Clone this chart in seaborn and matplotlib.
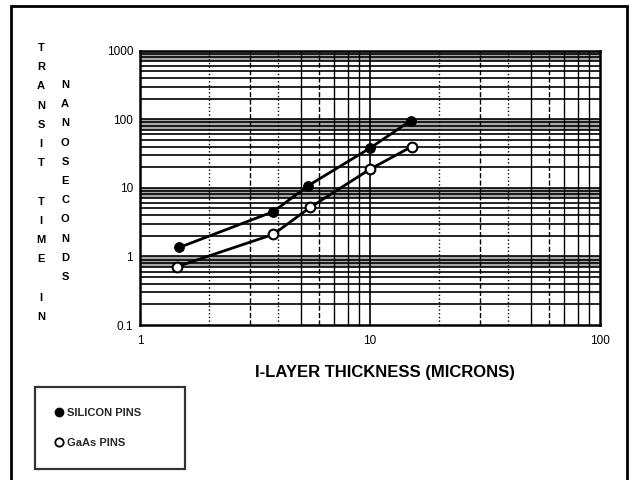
import numpy as np
import pandas as pd
import matplotlib
matplotlib.use("Agg")
import matplotlib.pyplot as plt
from matplotlib.lines import Line2D
from matplotlib.patches import Rectangle
import seaborn as sns

# ---- data ----
si_thickness = [1.48, 3.8, 5.4, 10.0, 15.0]
si_transit = [1.35, 4.5, 10.8, 38.0, 95.0]
gaas_thickness = [1.45, 3.8, 5.5, 10.0, 15.2]
gaas_transit = [0.71, 2.1, 5.2, 18.7, 40.0]

y_ticks = [0.1, 1, 10, 100, 1000]
y_tick_labels = ["0.1", "1", "10", "100", "1000"]
x_ticks = [1, 10, 100]
x_tick_labels = ["1", "10", "100"]

series_names = ["SILICON PINS", "GaAs PINS"]
x_label = "I-LAYER THICKNESS (MICRONS)"
ylabel_col1 = "TRANSIT TIME IN"
ylabel_col2 = "NANOSECONDS"

df = pd.DataFrame({
    "thickness": si_thickness + gaas_thickness,
    "transit": si_transit + gaas_transit,
    "series": [series_names[0]] * len(si_thickness) + [series_names[1]] * len(gaas_thickness),
})

sns.set_theme(style="white")
plt.rcParams["font.family"] = ["Liberation Sans", "DejaVu Sans"]

W, H = 634, 480
fig = plt.figure(figsize=(W / 100, H / 100), dpi=100)
fig.patch.set_facecolor("white")

def fx(px):
    return px / W

def fy(py):
    return 1 - py / H

ax = fig.add_axes([fx(140), fy(325), fx(600) - fx(140), fy(50.7) - fy(325)])
ax.set_xscale("log")
ax.set_yscale("log")
ax.set_xlim(1, 100)
ax.set_ylim(0.1, 1000)

# gray bands near each decade line
for d in [0.1, 1, 10, 100]:
    ax.axhspan(d * 7, d * 10, color="#a8a8a8", lw=0, zorder=0.5)

# grid lines
for d in [0.1, 1, 10, 100]:
    for m in range(1, 10):
        v = d * m
        if 0.1 < v < 1000:
            ax.axhline(v, color="black", lw=1.2, zorder=1)
vstyles = {2: ":", 3: "--", 4: ":", 6: "--"}
for d in [1, 10]:
    for m in range(2, 10):
        ax.axvline(d * m, color="black", lw=1.0, ls=vstyles.get(m, "-"), zorder=1)
ax.axvline(10, color="black", lw=1.2, zorder=1)

sub_si = df[df.series == series_names[0]]
sub_ga = df[df.series == series_names[1]]
sns.lineplot(data=sub_si, x="thickness", y="transit", ax=ax, color="black", lw=2,
             marker="o", markersize=7, markerfacecolor="black", markeredgecolor="black",
             legend=False, zorder=5)
sns.lineplot(data=sub_ga, x="thickness", y="transit", ax=ax, color="black", lw=2,
             marker="o", markersize=7, markerfacecolor="white", markeredgecolor="black",
             markeredgewidth=1.5, legend=False, zorder=5)

ax.set_xlabel("")
ax.set_ylabel("")
ax.set_yticks(y_ticks)
ax.set_yticklabels(y_tick_labels)
ax.set_xticks(x_ticks)
ax.set_xticklabels(x_tick_labels)
ax.minorticks_off()
ax.tick_params(axis="both", length=0, labelsize=8.5, colors="black")
ax.tick_params(axis="y", pad=5)
ax.tick_params(axis="x", pad=7)
for s in ax.spines.values():
    s.set_color("black")
    s.set_linewidth(1.8)
    s.set_visible(True)

# x label
fig.text(fx(385), fy(372), x_label, ha="center", va="center",
         fontsize=12, fontweight="bold", color="black")

# stacked y label letters
step = 19.2
for i, ch in enumerate(ylabel_col1):
    if ch.strip():
        fig.text(fx(41), fy(48 + i * step), ch,
                 ha="center", va="center", fontsize=8, fontweight="bold", color="black")
for i, ch in enumerate(ylabel_col2):
    fig.text(fx(65), fy(85 + i * step), ch, ha="center", va="center",
             fontsize=8, fontweight="bold", color="black")

# legend box
handles = [
    Line2D([], [], ls="none", marker="o", markersize=6, markerfacecolor="black", markeredgecolor="black"),
    Line2D([], [], ls="none", marker="o", markersize=6, markerfacecolor="white", markeredgecolor="black", markeredgewidth=1.3),
]
leg = fig.legend(handles, series_names, loc="upper left",
                 bbox_to_anchor=(fx(35), fy(387), fx(185) - fx(35), 0.0), mode="expand",
                 frameon=True, fancybox=False, edgecolor="black", fontsize=8,
                 handlelength=0.5, handletextpad=0.5, labelspacing=1.75, borderpad=1.9,
                 borderaxespad=0)
leg.get_frame().set_linewidth(1.6)
for t in leg.get_texts():
    t.set_fontweight("bold")

# outer frame
fig.patches.append(Rectangle((fx(11), fy(520)), fx(627) - fx(11), fy(6) - fy(520),
                             transform=fig.transFigure, fill=False, edgecolor="black",
                             lw=2, clip_on=False))

fig.savefig("out.png", dpi=100, facecolor="white")
